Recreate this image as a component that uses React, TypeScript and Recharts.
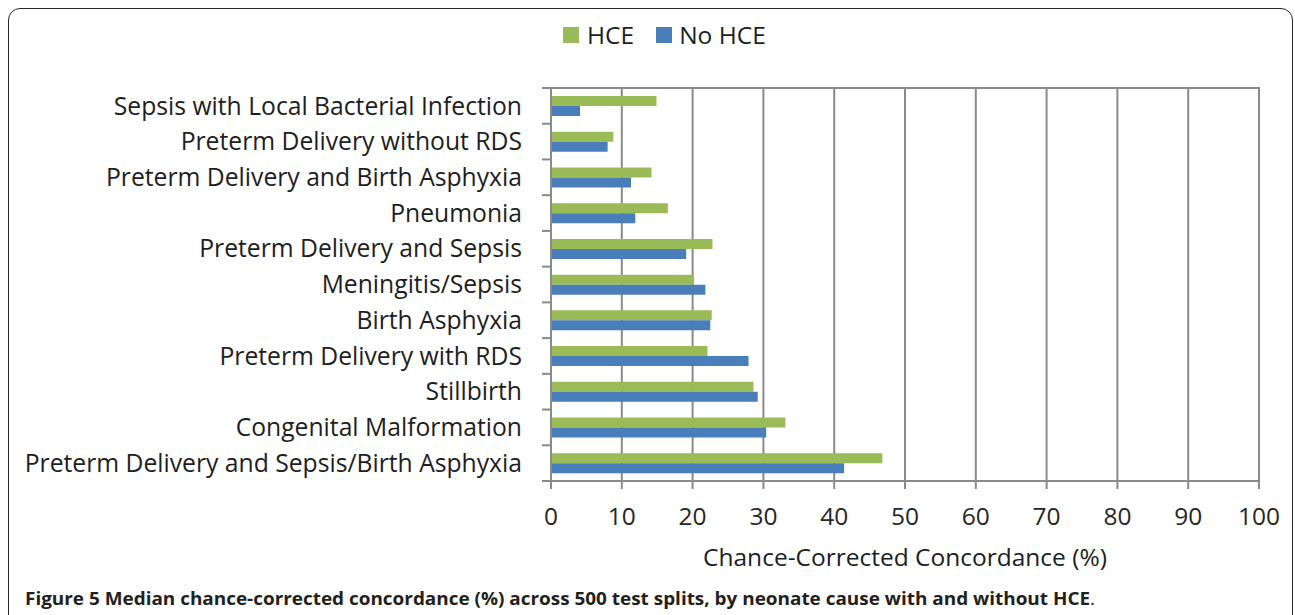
import React from 'react';
import {
  Bar,
  BarChart,
  CartesianGrid,
  ReferenceArea,
  XAxis,
  YAxis,
} from 'recharts';

const causes = [
  'Sepsis with Local Bacterial Infection',
  'Preterm Delivery without RDS',
  'Preterm Delivery and Birth Asphyxia',
  'Pneumonia',
  'Preterm Delivery and Sepsis',
  'Meningitis/Sepsis',
  'Birth Asphyxia',
  'Preterm Delivery with RDS',
  'Stillbirth',
  'Congenital Malformation',
  'Preterm Delivery and Sepsis/Birth Asphyxia',
];
const hce = [14.9, 8.8, 14.2, 16.5, 22.8, 20.2, 22.7, 22.1, 28.6, 33.1, 46.8];
const noHce = [4.1, 8.0, 11.3, 11.9, 19.1, 21.8, 22.5, 27.9, 29.2, 30.4, 41.4];
const xTicks = [0, 10, 20, 30, 40, 50, 60, 70, 80, 90, 100];

const GREEN = '#9bbb59';
const BLUE = '#4a7ebb';
const GRID = '#8a8a8a';
const FONT = '"Open Sans", sans-serif';

const CHART_W = 1295;
const CHART_H = 585;
const MARGIN = { top: 88, right: 36, bottom: 0, left: 0 };
const X_AXIS_H = 104;
const Y_AXIS_W = 551;
const band = (CHART_H - MARGIN.top - MARGIN.bottom - X_AXIS_H) / causes.length;

const data = causes.map((cause, i) => ({
  cause,
  hce: hce[i],
  noHce: noHce[i],
}));

const CategoryTick = (props: any) => {
  const { x, y, payload, index } = props;
  const axisX = x + 29;
  return (
    <g>
      <line x1={axisX - 9} x2={axisX} y1={y - band / 2} y2={y - band / 2} stroke={GRID} strokeWidth={2} />
      {index === causes.length - 1 && (
        <line x1={axisX - 9} x2={axisX} y1={y + band / 2} y2={y + band / 2} stroke={GRID} strokeWidth={2} />
      )}
      <text x={x} y={y} dy="0.35em" textAnchor="end" fill="#1e1e1e" fontSize={24.7} fontFamily={FONT}>
        {payload.value}
      </text>
    </g>
  );
};

const ChartLegend = () => (
  <div
    style={{
      position: 'absolute',
      left: 563,
      top: 18,
      display: 'flex',
      alignItems: 'center',
      fontFamily: FONT,
      fontSize: 24.5,
      lineHeight: '34px',
      color: '#1e1e1e',
    }}
  >
    <span style={{ width: 16, height: 16, background: GREEN, display: 'inline-block', marginRight: 8 }} />
    <span style={{ marginRight: 22 }}>HCE</span>
    <span style={{ width: 16, height: 16, background: BLUE, display: 'inline-block', marginRight: 7 }} />
    <span>No HCE</span>
  </div>
);

export default function App() {
  return (
    <div style={{ position: 'absolute', left: 0, top: 0, width: 1295, height: 615, overflow: 'hidden', background: '#fff' }}>
      <div
        style={{
          position: 'absolute',
          left: 8,
          top: 8,
          width: 1285,
          height: 720,
          border: '1.5px solid #262626',
          borderRadius: 12,
          boxSizing: 'border-box',
        }}
      />
      <ChartLegend />
      <div style={{ position: 'absolute', left: 0, top: 0 }}>
        <BarChart width={CHART_W} height={CHART_H} data={data} layout="vertical" margin={MARGIN} barSize={10} barGap={0}>
          <CartesianGrid horizontal={false} vertical stroke={GRID} strokeWidth={2} />
          {/* plot-area border (top/right edges) */}
          <ReferenceArea x1={0} x2={100} fill="none" stroke={GRID} strokeWidth={2} ifOverflow="visible" />
          <XAxis
            type="number"
            domain={[0, 100]}
            ticks={xTicks}
            interval={0}
            height={X_AXIS_H}
            tickSize={8}
            tickMargin={19}
            axisLine={{ stroke: GRID, strokeWidth: 2 }}
            tickLine={{ stroke: GRID, strokeWidth: 2 }}
            tick={{ fill: '#262626', fontSize: 24.5, fontFamily: FONT }}
            label={{
              value: 'Chance-Corrected Concordance (%)',
              position: 'insideBottom',
              offset: 19,
              fill: '#1e1e1e',
              fontSize: 24.5,
              fontFamily: FONT,
            }}
          />
          <YAxis
            type="category"
            dataKey="cause"
            width={Y_AXIS_W}
            interval={0}
            tickSize={9}
            tickMargin={20}
            tickLine={false}
            axisLine={{ stroke: GRID, strokeWidth: 2 }}
            tick={<CategoryTick />}
          />
          <Bar dataKey="hce" name="HCE" fill={GREEN} isAnimationActive={false} />
          <Bar dataKey="noHce" name="No HCE" fill={BLUE} isAnimationActive={false} />
        </BarChart>
      </div>
      <svg style={{ position: 'absolute', left: 0, top: 580 }} width={1295} height={35}>
        <text
          x={25}
          y={25}
          textLength={1070}
          lengthAdjust="spacingAndGlyphs"
          fontFamily={FONT}
          fontSize={18}
          fontWeight="bold"
          fill="#231f20"
        >
          Figure 5 Median chance-corrected concordance (%) across 500 test splits, by neonate cause with and without HCE
          <tspan fontWeight="normal">.</tspan>
        </text>
      </svg>
    </div>
  );
}
